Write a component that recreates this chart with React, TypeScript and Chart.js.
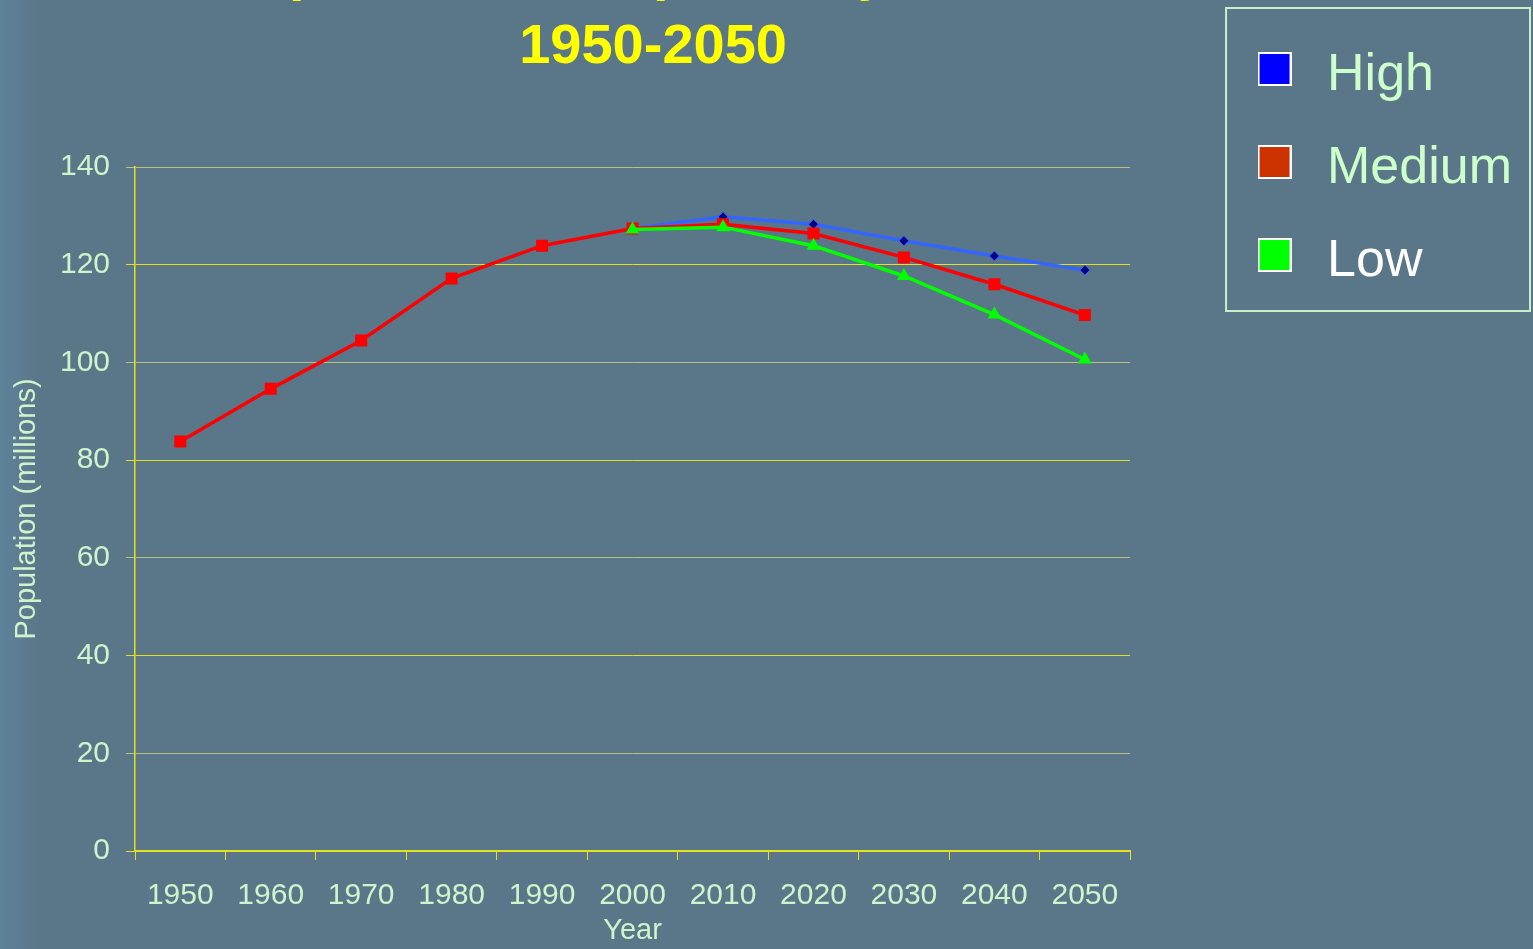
import React, { useEffect, useRef } from 'react';
import { Chart, registerables } from 'chart.js';

Chart.register(...registerables);

const years = ['1950', '1960', '1970', '1980', '1990', '2000', '2010', '2020', '2030', '2040', '2050'];
const highValues = [null, null, null, null, null, 127.4, 129.8, 128.3, 124.9, 121.8, 118.9];
const mediumValues = [83.8, 94.6, 104.5, 117.2, 123.9, 127.4, 128.3, 126.4, 121.5, 116.0, 109.7];
const lowValues = [null, null, null, null, null, 127.2, 127.7, 123.9, 117.7, 109.8, 100.6];
const seriesNames = ['High', 'Medium', 'Low'];
const swatchColors = ['#0000FF', '#CC3300', '#00FF00'];
const legendTextColors = ['#CCFFCC', '#CCFFCC', '#FFFFFF'];
const titleLines = ['Population of Japan Projections,', '1950-2050'];
const yMin = 0;
const yMax = 140;
const yStep = 20;

const FONT = "Arial, 'Liberation Sans', sans-serif";
const PALE = '#CCF5CC';
const YELLOW = '#E2E21E';
const PALE_GRID = '#BCC27E';

const TITLE_FONT = { family: FONT, size: 56, weight: 'bold', lineHeight: 1.32 };
const TITLE_PADDING = { top: -71.9, bottom: 82.1 };

function makeSwatch(color: string): HTMLCanvasElement {
  // square sits in the upper part of a taller transparent image so it lines up with the text
  const c = document.createElement('canvas');
  c.width = 34;
  c.height = 48;
  const g = c.getContext('2d')!;
  g.fillStyle = '#FFFFFF';
  g.fillRect(0, 0, 34, 34);
  g.fillStyle = color;
  g.fillRect(2, 2, 30, 30);
  return c;
}

const legendBorderPlugin = {
  id: 'legendBorder',
  afterDraw(chart: any) {
    const l = chart.legend;
    if (!l) return;
    const ctx = chart.ctx;
    ctx.save();
    ctx.strokeStyle = '#C8F0C8';
    ctx.lineWidth = 2;
    const left = l.left + 19;
    ctx.strokeRect(left, 8, chart.width - 3 - left, 303);
    ctx.restore();
  },
};

export default function App() {
  const canvasRef = useRef<HTMLCanvasElement | null>(null);

  useEffect(() => {
    const canvas = canvasRef.current;
    if (!canvas) return;
    const swatches = swatchColors.map(makeSwatch);
    const chart = new Chart(canvas, {
      type: 'line',
      data: {
        labels: years,
        datasets: [
          {
            label: seriesNames[0],
            data: highValues,
            borderColor: '#3366FF',
            backgroundColor: '#000080',
            borderWidth: 3.5,
            pointStyle: 'rectRot',
            pointRadius: 5,
            pointBackgroundColor: '#000080',
            pointBorderColor: '#3366FF',
            pointBorderWidth: 1,
            tension: 0,
            order: 3,
          },
          {
            label: seriesNames[1],
            data: mediumValues,
            borderColor: '#FF0000',
            backgroundColor: '#FF0000',
            borderWidth: 3.5,
            pointStyle: 'rect',
            pointRadius: 8.5,
            pointBackgroundColor: '#FF0000',
            pointBorderColor: '#FF0000',
            pointBorderWidth: 0,
            tension: 0,
            order: 2,
          },
          {
            label: seriesNames[2],
            data: lowValues,
            borderColor: '#00FF00',
            backgroundColor: '#00FF00',
            borderWidth: 3.5,
            pointStyle: 'triangle',
            pointRadius: 8,
            pointBackgroundColor: '#00FF00',
            pointBorderColor: '#00FF00',
            pointBorderWidth: 0,
            tension: 0,
            order: 1,
          },
        ],
      },
      options: {
        responsive: false,
        animation: false,
        devicePixelRatio: 1,
        layout: { padding: { top: 9, right: 11, left: 0, bottom: 0 } },
        plugins: {
          tooltip: { enabled: false },
          // empty box sharing the heading row, so the title is centred a little right of the plot centre
          subtitle: {
            display: true,
            text: ['', ''],
            position: 'top',
            fullSize: false,
            weight: 2000,
            stack: 'heading',
            stackWeight: 0.0412,
            font: TITLE_FONT,
            padding: TITLE_PADDING,
          },
          title: {
            display: true,
            text: titleLines,
            color: '#FFFF00',
            position: 'top',
            fullSize: false,
            weight: 1000,
            stack: 'heading',
            stackWeight: 0.9588,
            font: TITLE_FONT,
            padding: TITLE_PADDING,
          },
          legend: {
            display: true,
            position: 'right',
            align: 'start',
            labels: {
              usePointStyle: true,
              pointStyleWidth: 53,
              padding: 41,
              font: { family: FONT, size: 52 },
              color: PALE,
              generateLabels: (c: any) =>
                c.data.datasets.map((ds: any, i: number) => ({
                  text: ds.label,
                  fillStyle: swatchColors[i],
                  strokeStyle: '#FFFFFF',
                  lineWidth: 0,
                  pointStyle: swatches[i],
                  fontColor: legendTextColors[i],
                  hidden: false,
                  datasetIndex: i,
                })),
            },
          },
        },
        scales: {
          x: {
            type: 'category',
            offset: true,
            grid: {
              offset: true,
              drawOnChartArea: false,
              drawTicks: true,
              tickLength: 9,
              color: YELLOW,
            },
            border: { display: true, color: YELLOW, width: 2 },
            ticks: {
              color: PALE,
              font: { family: FONT, size: 30, lineHeight: 1.2 },
              padding: 17.5,
              maxRotation: 0,
              autoSkip: false,
            },
            title: {
              display: true,
              text: 'Year',
              color: PALE,
              font: { family: FONT, size: 29, lineHeight: 1.2 },
              padding: { top: -17.4, bottom: 0.6 },
            },
          },
          y: {
            type: 'linear',
            min: yMin,
            max: yMax,
            position: 'left',
            ticks: {
              stepSize: yStep,
              color: PALE,
              font: { family: FONT, size: 30, lineHeight: 1.2 },
              padding: 16,
            },
            grid: {
              drawTicks: true,
              tickLength: 9,
              lineWidth: 1,
              color: (ctx: any) =>
                ctx.tick && ctx.tick.value % 40 === 0 ? YELLOW : PALE_GRID,
            },
            border: { display: true, color: YELLOW, width: 1.5 },
            title: {
              display: true,
              text: 'Population (millions)',
              color: PALE,
              font: { family: FONT, size: 29, lineHeight: 1.2 },
              padding: { top: 10, bottom: -0.8 },
            },
          },
          spacer: {
            type: 'linear',
            position: 'right',
            display: false,
            afterFit: (s: any) => {
              s.width = 77;
            },
          },
        },
      },
      plugins: [legendBorderPlugin],
    } as any);
    return () => chart.destroy();
  }, []);

  return (
    <div
      style={{
        position: 'fixed',
        left: 0,
        top: 0,
        width: 1533,
        height: 949,
        overflow: 'hidden',
        background: 'linear-gradient(to right, #5F8299 0px, #5A7689 40px, #5A7689 100%)',
      }}
    >
      <canvas ref={canvasRef} width={1533} height={949} style={{ display: 'block' }} />
    </div>
  );
}
